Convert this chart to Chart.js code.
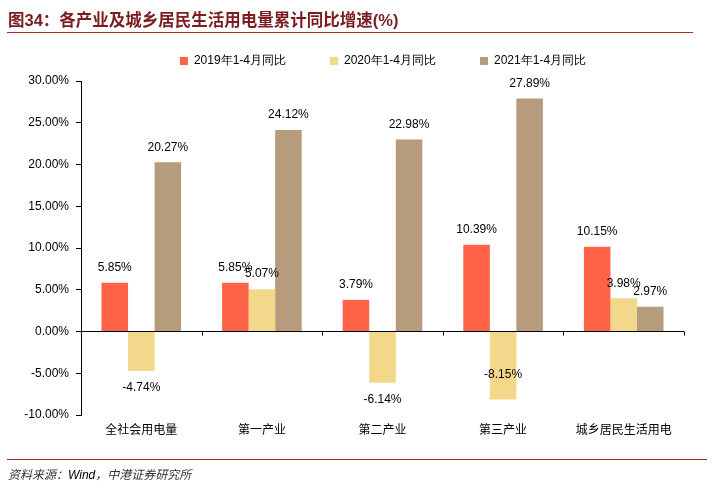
<!DOCTYPE html>
<html>
<head>
<meta charset="utf-8">
<script src="https://cdn.jsdelivr.net/npm/chart.js@4/dist/chart.umd.min.js"></script>
<style>
  html, body { margin: 0; padding: 0; background: #fff; }
  #wrap { position: relative; width: 714px; height: 498px; }
  #title { position: absolute; left: 8px; top: 7px; font: bold 16.5px "Liberation Sans", "Noto Sans CJK SC", sans-serif; color: #7a1c20; white-space: nowrap; }
  #topline { position: absolute; left: 7px; top: 32px; width: 686px; height: 0; border-top: 1.5px solid #a52a2a; }
  #botline { position: absolute; left: 7px; top: 459px; width: 700px; height: 0; border-top: 1.5px solid #a52a2a; }
  #source { position: absolute; left: 8px; top: 465px; font: italic 12px "Liberation Sans", "Noto Sans CJK SC", sans-serif; color: #333; }
  canvas { position: absolute; left: 0; top: 0; }
</style>
</head>
<body>
<div id="wrap">
  <canvas id="barChartDiv" width="714" height="498"></canvas>
  <div id="title">图34：各产业及城乡居民生活用电量累计同比增速(%)</div>
  <div id="topline"></div>
  <div id="botline"></div>
  <div id="source">资料来源：<span style="color:#000">Wind</span>，中港证券研究所</div>
</div>
<script>
var categories = ["全社会用电量", "第一产业", "第二产业", "第三产业", "城乡居民生活用电"];
var seriesNames = ["2019年1-4月同比", "2020年1-4月同比", "2021年1-4月同比"];
var values2019 = [5.85, 5.85, 3.79, 10.39, 10.15];
var values2020 = [-4.74, 5.07, -6.14, -8.15, 3.98];
var values2021 = [20.27, 24.12, 22.98, 27.89, 2.97];
var colors = ["#ff6347", "#f3d78a", "#b69b7c"];

var cnFont = '"Noto Sans CJK SC", sans-serif';
var enFont = '"Liberation Sans", Arial, sans-serif';

// legend spacing / position tweaks
var legendTweak = {
	id: 'legendTweak',
	afterInit: function(chart) {
		var lg = chart.legend;
		var fit = lg.fit;
		lg.fit = function() {
			fit.apply(this, arguments);
			this.height += 4;
		};
	},
	afterLayout: function(chart) {
		chart.legend.left += 82;
	}
};

// value labels on bars + small tick marks on the zero line
var barLabels = {
	id: 'barLabels',
	afterDatasetsDraw: function(chart) {
		var ctx = chart.ctx;
		var area = chart.chartArea;
		ctx.save();
		ctx.font = '12px ' + enFont;
		ctx.fillStyle = '#000';
		ctx.textAlign = 'center';
		ctx.textBaseline = 'top';
		chart.data.datasets.forEach(function(ds, i) {
			var meta = chart.getDatasetMeta(i);
			meta.data.forEach(function(bar, j) {
				var v = ds.data[j];
				var txt = v.toFixed(2) + '%';
				var ty;
				if (v >= 0) {
					ty = bar.y - 8 - 13;
				} else if (bar.y + 11 + 13 <= area.bottom) {
					ty = bar.y + 11;
				} else {
					// no room under the bar, put it inside
					ty = bar.y - 31;
				}
				ctx.fillText(txt, bar.x, ty);
			});
		});
		var xs = chart.scales.x, ys = chart.scales.y;
		var y0 = ys.getPixelForValue(0);
		ctx.strokeStyle = '#000';
		ctx.lineWidth = 1;
		for (var k = 0; k <= categories.length; k++) {
			var px = Math.round(xs.left + (xs.right - xs.left) * k / categories.length) + 0.5;
			ctx.beginPath();
			ctx.moveTo(px, y0);
			ctx.lineTo(px, y0 + 4);
			ctx.stroke();
		}
		ctx.restore();
	}
};

var barChart = new Chart(document.getElementById('barChartDiv'), {
	type: 'bar',
	data: {
		labels: categories,
		datasets: [
			{ label: seriesNames[0], data: values2019, backgroundColor: colors[0] },
			{ label: seriesNames[1], data: values2020, backgroundColor: colors[1] },
			{ label: seriesNames[2], data: values2021, backgroundColor: colors[2] }
		]
	},
	options: {
		responsive: false,
		animation: false,
		maintainAspectRatio: false,
		layout: { padding: { top: 11, right: 30, bottom: 63, left: 0 } },
		datasets: { bar: { categoryPercentage: 0.66, barPercentage: 1.0 } },
		plugins: {
			tooltip: { enabled: false },
			legend: {
				position: 'top',
				labels: {
					boxWidth: 8, boxHeight: 8, padding: 44,
					color: '#000',
					font: { size: 12, family: enFont }
				}
			}
		},
		scales: {
			x: {
				grid: { display: false },
				border: { display: false },
				ticks: { color: '#000', padding: 0, font: { size: 12, family: cnFont, lineHeight: 1 } }
			},
			y: {
				min: -10, max: 30,
				afterFit: function(s) { s.width = 81; },
				grid: {
					drawOnChartArea: true,
					tickLength: 5,
					tickColor: '#000',
					color: function(c) { return c.tick && c.tick.value === 0 ? '#000' : 'rgba(0,0,0,0)'; }
				},
				border: { display: true, color: '#000' },
				ticks: {
					stepSize: 5, padding: 7, color: '#000',
					font: { size: 12, family: enFont },
					callback: function(v) { return v.toFixed(2) + '%'; }
				}
			}
		}
	},
	plugins: [legendTweak, barLabels]
});
</script>
</body>
</html>
